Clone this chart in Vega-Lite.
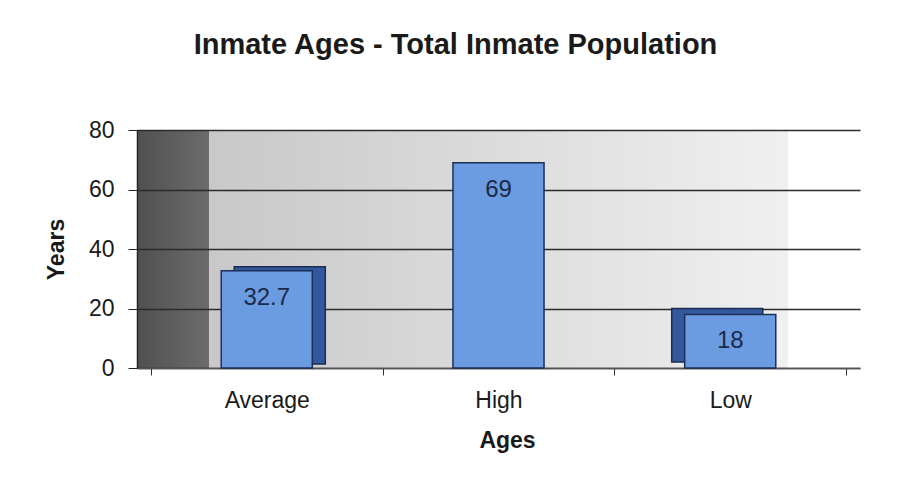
{
  "$schema": "https://vega.github.io/schema/vega-lite/v6.json",
  "width": 723,
  "height": 238,
  "autosize": {"type": "none"},
  "padding": {"left": 137, "top": 130, "right": 39, "bottom": 126},
  "background": "white",
  "title": {
    "text": "Inmate Ages - Total Inmate Population",
    "font": "Liberation Sans",
    "fontSize": 29,
    "fontWeight": "bold",
    "color": "#1a1a1a",
    "anchor": "middle",
    "dx": -43,
    "offset": 59
  },
  "data": {
    "values": [
      {"Ages": "Average", "Years": 32.7},
      {"Ages": "High", "Years": 69},
      {"Ages": "Low", "Years": 18}
    ]
  },
  "encoding": {
    "x": {
      "field": "Ages",
      "type": "nominal",
      "sort": ["Average", "High", "Low"],
      "scale": {"domain": ["Average", "High", "Low"], "paddingInner": 0, "paddingOuter": 0.06},
      "axis": {
        "title": "Ages",
        "titleFont": "Liberation Sans",
        "titleFontSize": 23,
        "titleFontWeight": "bold",
        "titleColor": "#1a1a1a",
        "titlePadding": 17,
        "titleX": 370,
        "labelAngle": 0,
        "labelFont": "Liberation Sans",
        "labelFontSize": 23,
        "labelColor": "#1a1a1a",
        "labelPadding": 14,
        "tickBand": "extent",
        "tickSize": 7,
        "tickColor": "#333333",
        "domainColor": "#555555",
        "domainWidth": 1.5,
        "grid": false
      }
    },
    "y": {
      "field": "Years",
      "type": "quantitative",
      "scale": {"domain": [0, 80], "nice": false},
      "axis": {
        "title": "Years",
        "titleFont": "Liberation Sans",
        "titleFontSize": 23,
        "titleFontWeight": "bold",
        "titleColor": "#1a1a1a",
        "titlePadding": 20,
        "values": [0, 20, 40, 60, 80],
        "labelFont": "Liberation Sans",
        "labelFontSize": 23,
        "labelColor": "#1a1a1a",
        "labelPadding": 14,
        "tickSize": 9,
        "tickColor": "#222222",
        "domainColor": "#222222",
        "domainWidth": 1.5,
        "grid": true,
        "gridColor": "#2b2b2b",
        "gridWidth": 1.5
      }
    }
  },
  "layer": [
    {
      "transform": [{"filter": "datum.Ages == 'Average'"}],
      "mark": {
        "type": "bar",
        "width": {"band": 0.393},
        "fill": "#34589e",
        "stroke": "#1a2c50",
        "strokeWidth": 1.5,
        "xOffset": 13,
        "yOffset": -4,
        "y2Offset": -4
      }
    },
    {
      "transform": [{"filter": "datum.Ages == 'Low'"}],
      "mark": {
        "type": "bar",
        "width": {"band": 0.393},
        "fill": "#34589e",
        "stroke": "#1a2c50",
        "strokeWidth": 1.5,
        "xOffset": -13,
        "yOffset": -6,
        "y2Offset": -6
      }
    },
    {
      "mark": {
        "type": "bar",
        "width": {"band": 0.393},
        "fill": "#6b9be0",
        "stroke": "#1d2f55",
        "strokeWidth": 1.5
      }
    },
    {
      "mark": {
        "type": "text",
        "dy": 27,
        "baseline": "middle",
        "font": "Liberation Sans",
        "fontSize": 24,
        "color": "#1c2a48"
      },
      "encoding": {"text": {"field": "Years", "type": "quantitative"}}
    }
  ],
  "config": {
    "view": {
      "stroke": null,
      "fill": {
        "gradient": "linear",
        "x1": 0, "y1": 0, "x2": 1, "y2": 0,
        "stops": [
          {"offset": 0, "color": "#505050"},
          {"offset": 0.1, "color": "#6c6c6c"},
          {"offset": 0.1001, "color": "#c8c8c8"},
          {"offset": 0.9, "color": "#f0f0f0"},
          {"offset": 0.9001, "color": "#ffffff"},
          {"offset": 1, "color": "#ffffff"}
        ]
      }
    }
  }
}
